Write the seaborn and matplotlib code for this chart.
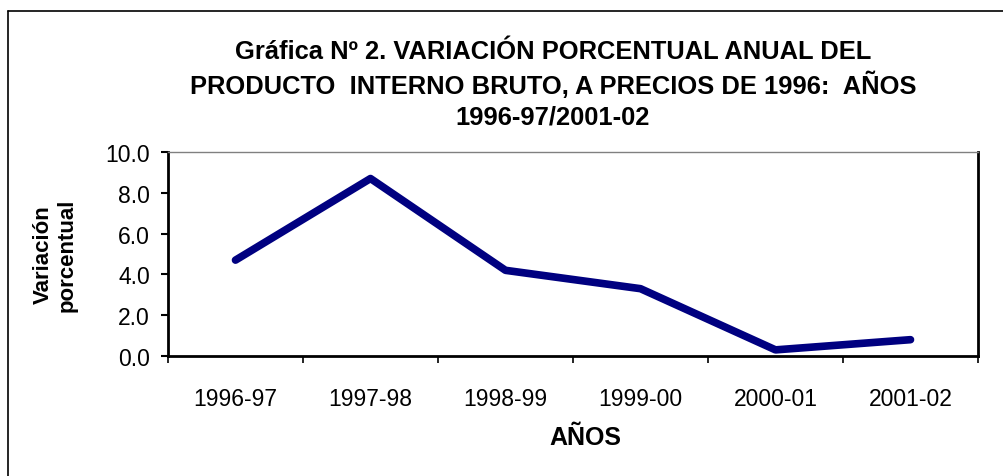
import matplotlib
matplotlib.use("Agg")
import matplotlib.pyplot as plt
from matplotlib.lines import Line2D
from matplotlib.ticker import FixedLocator
import pandas as pd
import seaborn as sns

# data
periods = ["1996-97", "1997-98", "1998-99", "1999-00", "2000-01", "2001-02"]
variation = [4.7, 8.7, 4.2, 3.3, 0.3, 0.8]
y_ticks = [0.0, 2.0, 4.0, 6.0, 8.0, 10.0]

title = ("Gráfica Nº 2. VARIACIÓN PORCENTUAL ANUAL DEL\n"
         "PRODUCTO  INTERNO BRUTO, A PRECIOS DE 1996:  AÑOS\n"
         "1996-97/2001-02")

sns.set_style("white")
plt.rcParams['font.family'] = ['Liberation Sans', 'DejaVu Sans']

df = pd.DataFrame({"periodo": periods, "variacion": variation})

fig = plt.figure(figsize=(10.04, 4.77), dpi=100)
ax = fig.add_axes([168 / 1004, 1 - 357 / 477, 810 / 1004, 204 / 477])

sns.lineplot(data=df, x="periodo", y="variacion", ax=ax, color="#000080",
             linewidth=5.5, sort=False)

ax.set_xlim(-0.5, len(periods) - 0.5)
ax.set_ylim(0, 10)
ax.set_yticks(y_ticks)
ax.set_yticklabels([f"{v:.1f}" for v in y_ticks])
ax.set_xticks(range(len(periods)))
ax.set_xticklabels(periods)
ax.xaxis.set_minor_locator(FixedLocator([i - 0.5 for i in range(len(periods) + 1)]))

ax.tick_params(axis="x", which="major", length=0, pad=22, labelsize=16.5,
               labelcolor="black")
ax.tick_params(axis="x", which="minor", length=5, width=1.2, color="black",
               direction="out", bottom=True)
ax.tick_params(axis="y", length=5, width=1.5, color="black", direction="out",
               left=True, pad=8, labelsize=16.5, labelcolor="black")

ax.set_xlabel("")
ax.set_ylabel("")

for side in ["left", "bottom", "right"]:
    ax.spines[side].set_color("black")
    ax.spines[side].set_linewidth(2)
ax.spines["top"].set_color("#808080")
ax.spines["top"].set_linewidth(1)

fig.text(553 / 1004, 1 - 85 / 477, title, ha="center", va="center",
         fontsize=18.4, fontweight="bold", linespacing=1.35, color="black")
fig.text(585 / 1004, 1 - 438 / 477, "AÑOS", ha="center", va="center",
         fontsize=18, fontweight="bold", color="black")
fig.text(55 / 1004, 1 - 255 / 477, "Variación\nporcentual", ha="center",
         va="center", rotation=90, fontsize=16, fontweight="bold",
         multialignment="center", linespacing=1.2, color="black")

# outer chart-area frame (only top and left edges visible)
fig.add_artist(Line2D([8 / 1004, 1.0], [1 - 12 / 477, 1 - 12 / 477],
                      transform=fig.transFigure, color="black", linewidth=1.2))
fig.add_artist(Line2D([8 / 1004, 8 / 1004], [0.0, 1 - 12 / 477],
                      transform=fig.transFigure, color="black", linewidth=1.2))

fig.savefig("out.png", dpi=100, facecolor="white")
